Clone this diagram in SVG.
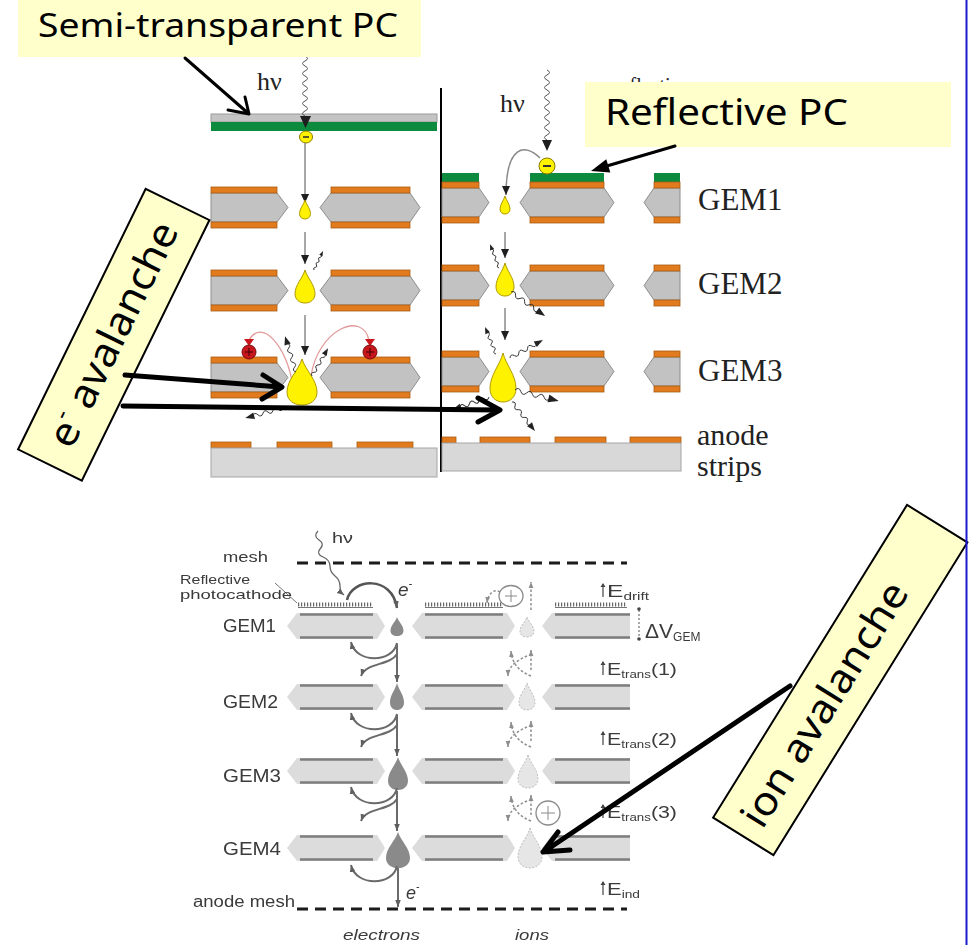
<svg xmlns="http://www.w3.org/2000/svg" width="969" height="945" viewBox="0 0 969 945">
<defs>
<style>
.lbl{font-family:"Noto Sans","DejaVu Sans",sans-serif;fill:#000}
.note{fill:#FFFFCC}
.noteb{fill:#FFFFCC;stroke:#000;stroke-width:2}
.ser{font-family:"Liberation Serif","Times New Roman",serif;fill:#222}
.cu{fill:#E27B1E;stroke:#A95C12;stroke-width:0.8}
.kap{fill:#C2C2C2;stroke:#8E8E8E;stroke-width:1}
.pc{fill:#0C8A3E}
.sub{fill:#D8D8D8;stroke:#A5A5A5;stroke-width:1}
.drift{stroke:#8A8A8A;stroke-width:1.5;fill:none}
.drop{fill:#FFF200;stroke:#B09A00;stroke-width:1}
.big{stroke:#000;stroke-width:5;fill:none;stroke-linecap:round;stroke-linejoin:round}
.ptr{stroke:#000;stroke-width:3;fill:none;stroke-linecap:round;stroke-linejoin:round}
.pink{stroke:#E39A9A;stroke-width:1.3;fill:none}
.gl{fill:#DCDCDC}
.el{stroke:#7E7E7E;stroke-width:2.5}
.sans{font-family:"Liberation Sans",Arial,sans-serif;fill:#3A3A3A}
.edrop{fill:#8A8A8A}
.idrop{fill:url(#dots);stroke:#BDBDBD;stroke-width:1;stroke-dasharray:2 1.5}
.etr{stroke:#6A6A6A;stroke-width:2;fill:none}
.itr{stroke:#8E8E8E;stroke-width:1.5;fill:none;stroke-dasharray:2.5 2}
.dash{stroke:#1A1A1A;stroke-width:3;stroke-dasharray:11 7;fill:none}
</style>
<pattern id="dots" width="3" height="3" patternUnits="userSpaceOnUse">
<rect width="3" height="3" fill="#E6E6E6"/><circle cx="1.5" cy="1.5" r="0.7" fill="#A6A6A6"/>
</pattern>
<filter id="soft"><feGaussianBlur stdDeviation="0.45"/></filter>
<clipPath id="above-note"><rect x="580" y="60" width="120" height="22"/></clipPath>
<marker id="mk" viewBox="0 0 10 10" refX="10" refY="5" markerWidth="9" markerHeight="9" markerUnits="userSpaceOnUse" orient="auto"><path d="M0,0.5 L10,5 L0,9.5 Z" fill="#1E1E1E"/></marker>
<marker id="mb" viewBox="0 0 10 10" refX="10" refY="5" markerWidth="7" markerHeight="7" markerUnits="userSpaceOnUse" orient="auto"><path d="M0,1 L10,5 L0,9 Z" fill="#5E5E5E"/></marker>
<marker id="mi" viewBox="0 0 10 10" refX="10" refY="5" markerWidth="6" markerHeight="6" markerUnits="userSpaceOnUse" orient="auto"><path d="M0,1 L10,5 L0,9 Z" fill="#8E8E8E"/></marker>
<!-- avalanche droplet, tip at (0,0), unit height/width -->
<path id="drop" vector-effect="non-scaling-stroke" d="M0,0 C0.12,0.25 0.5,0.45 0.5,0.72 C0.5,0.9 0.27,1 0,1 C-0.27,1 -0.5,0.9 -0.5,0.72 C-0.5,0.45 -0.12,0.25 0,0 Z"/>
<!-- short photon squiggle with arrowhead, 30 units long along +x -->
<g id="sq"><path d="M0 0 q2 -3 4 0 q2 3 4 0 q2 -3 4 0 q2 3 4 0 q2 -3 4 0 q2 3 4 0" fill="none" stroke="#333" stroke-width="1" vector-effect="non-scaling-stroke"/><polygon points="30,0 23,-2.6 23,2.6" fill="#222"/></g>
<!-- positive ion with drift arrowhead -->
<g id="ion"><polygon points="-5,-13 5,-13 0,-6" fill="#C8161D"/><circle r="7" fill="#C8161D" stroke="#7A0A0A" stroke-width="1"/><path d="M-4 0 H4 M0 -4 V4" stroke="#3A0000" stroke-width="1"/></g>
<!-- GEM foil cross-section, left stack -->
<g id="gemL">
<polygon class="kap" points="211,6 277,6 288,20.5 277,35 211,35"/>
<polygon class="kap" points="331,6 410,6 420,20.5 410,35 331,35 320,20.5"/>
<rect class="cu" x="211" y="0" width="66" height="6"/><rect class="cu" x="331" y="0" width="79" height="6"/>
<rect class="cu" x="211" y="35" width="66" height="6"/><rect class="cu" x="331" y="35" width="79" height="6"/>
</g>
<!-- GEM foil cross-section, right stack -->
<g id="gemR">
<polygon class="kap" points="442,6 479,6 489,20.5 479,35 442,35"/>
<polygon class="kap" points="530,6 604,6 614,20.5 604,35 530,35 520,20.5"/>
<polygon class="kap" points="654,6 680,6 680,35 654,35 644,20.5"/>
<rect class="cu" x="442" y="0" width="37" height="6"/><rect class="cu" x="530" y="0" width="74" height="6"/><rect class="cu" x="654" y="0" width="26" height="6"/>
<rect class="cu" x="442" y="35" width="37" height="6"/><rect class="cu" x="530" y="35" width="74" height="6"/><rect class="cu" x="654" y="35" width="26" height="6"/>
</g>
<!-- GEM foil, lower schematic -->
<g id="gemB">
<polygon class="gl" points="287,0 297,-13 377,-13 385,0 377,13 297,13"/>
<polygon class="gl" points="412,0 422,-13 507,-13 515,0 507,13 422,13"/>
<polygon class="gl" points="542,0 552,-13 630,-13 630,13 552,13"/>
<path class="el" d="M300 -11.5 H373 M300 11.5 H373 M425 -11.5 H503 M425 11.5 H503 M555 -11.5 H630 M555 11.5 H630"/>
</g>
<!-- electron transfer below a lower foil -->
<g id="etrans">
<path class="etr" d="M397 17 C393 37 356 38 351 16" marker-end="url(#mb)"/>
<path class="etr" d="M397 28 C390 40 366 36 361 50" marker-end="url(#mb)"/>
</g>
<!-- ion back-flow below a lower foil -->
<g id="itrans">
<path class="itr" d="M531 44 V24" marker-end="url(#mi)"/>
<path class="itr" d="M531 50 C520 46 512 38 511 25" marker-end="url(#mi)"/>
<path class="itr" d="M527 30 C518 34 508 40 508 50" marker-end="url(#mi)"/>
</g>
</defs>

<rect width="969" height="945" fill="#FFFFFF"/>

<!-- ===== semi-transparent photocathode stack ===== -->
<g id="stack-semi">
<rect x="211" y="114" width="226" height="8" fill="#C4C4C4" stroke="#9A9A9A" stroke-width="1"/>
<rect class="pc" x="211" y="122" width="226" height="9"/>
<path d="M305 56 q5 2.5 0 5 q-5 2.5 0 5 q5 2.5 0 5 q-5 2.5 0 5 q5 2.5 0 5 q-5 2.5 0 5 q5 2.5 0 5 q-5 2.5 0 5 q5 2.5 0 5 q-5 2.5 0 5 q5 2.5 0 5 q-5 2.5 0 5" fill="none" stroke="#555" stroke-width="1"/>
<polygon points="300,116 311,116 305.5,128" fill="#1E1E1E"/>
<text class="ser" x="257" y="90" font-size="26">hν</text>
<ellipse cx="306" cy="137" rx="6.5" ry="6" fill="#FFF200" stroke="#8A7A00" stroke-width="1"/>
<path d="M303 137 H309" stroke="#333" stroke-width="1.6"/>
<line class="drift" x1="305" y1="143" x2="305" y2="203" marker-end="url(#mk)"/>
<use href="#gemL" transform="translate(0,187)"/>
<use href="#gemL" transform="translate(0,270)"/>
<use href="#gemL" transform="translate(0,357)"/>
<line class="drift" x1="305" y1="232" x2="305" y2="264" marker-end="url(#mk)"/>
<line class="drift" x1="305" y1="315" x2="305" y2="355" marker-end="url(#mk)"/>
<use href="#drop" class="drop" transform="translate(305,200) scale(11,19)"/>
<use href="#drop" class="drop" transform="translate(305,270) scale(20,33)"/>
<path class="pink" d="M293 386 C286 345 262 318 249 340"/>
<path class="pink" d="M311 376 C318 330 362 310 369 340"/>
<use href="#ion" transform="translate(249,352)"/>
<use href="#ion" transform="translate(370,352)"/>
<use href="#drop" class="drop" transform="translate(302,359) scale(30,46)"/>
<use href="#sq" transform="translate(314,270) rotate(-64.6) scale(0.7)"/>
<use href="#sq" transform="translate(296,372) rotate(-107) scale(1.25)"/>
<use href="#sq" transform="translate(312,376) rotate(-60) scale(1.07)"/>
<use href="#sq" transform="translate(283,408) rotate(165) scale(1.3)"/>
<rect class="cu" x="211" y="442" width="40" height="6"/>
<rect class="cu" x="277" y="442" width="55" height="6"/>
<rect class="cu" x="357" y="442" width="56" height="6"/>
<rect class="sub" x="211" y="448" width="226" height="29"/>
</g>

<line x1="441" y1="88" x2="441" y2="472" stroke="#000" stroke-width="2"/>

<!-- ===== reflective photocathode stack ===== -->
<g id="stack-reflective">
<text class="ser" x="614" y="92" font-size="20" clip-path="url(#above-note)">reflective</text>
<rect class="pc" x="442" y="173" width="37" height="9"/>
<rect class="pc" x="530" y="173" width="74" height="9"/>
<rect class="pc" x="654" y="173" width="26" height="9"/>
<use href="#gemR" transform="translate(0,182)"/>
<use href="#gemR" transform="translate(0,265)"/>
<use href="#gemR" transform="translate(0,351)"/>
<path d="M547 70 q5 2.5 0 5 q-5 2.5 0 5 q5 2.5 0 5 q-5 2.5 0 5 q5 2.5 0 5 q-5 2.5 0 5 q5 2.5 0 5 q-5 2.5 0 5 q5 2.5 0 5 q-5 2.5 0 5 q5 2.5 0 5 q-5 2.5 0 5 q5 2.5 0 5 q-5 2.5 0 5" fill="none" stroke="#555" stroke-width="1"/>
<polygon points="542,140 552,140 547,151" fill="#1E1E1E"/>
<text class="ser" x="500" y="112" font-size="26">hν</text>
<path class="drift" d="M540 158 C525 143 506 145 506 195" marker-end="url(#mk)"/>
<circle cx="547" cy="166" r="8" fill="#FFF200" stroke="#8A7A00" stroke-width="1"/>
<path d="M543 166 H551" stroke="#333" stroke-width="2"/>
<use href="#drop" class="drop" transform="translate(505,196) scale(10,18)"/>
<line class="drift" x1="505" y1="232" x2="505" y2="258" marker-end="url(#mk)"/>
<use href="#drop" class="drop" transform="translate(505,263) scale(18,33)"/>
<line class="drift" x1="505" y1="308" x2="505" y2="340" marker-end="url(#mk)"/>
<use href="#drop" class="drop" transform="translate(503,353) scale(26,49)"/>
<use href="#sq" transform="translate(499,268) rotate(-110.6) scale(0.85)"/>
<use href="#sq" transform="translate(511,292) rotate(35.2) scale(1.39)"/>
<use href="#sq" transform="translate(496,354) rotate(-112) scale(0.97)"/>
<use href="#sq" transform="translate(510,358) rotate(-28.6) scale(1.25)"/>
<use href="#sq" transform="translate(515,390) rotate(14) scale(1.5)"/>
<use href="#sq" transform="translate(512,402) rotate(51.6) scale(1.23)"/>
<use href="#sq" transform="translate(489,397) rotate(160.6) scale(1.3)"/>
<rect class="cu" x="442" y="437" width="14" height="6"/>
<rect class="cu" x="480" y="437" width="50" height="6"/>
<rect class="cu" x="555" y="437" width="51" height="6"/>
<rect class="cu" x="630" y="437" width="51" height="6"/>
<rect class="sub" x="442" y="443" width="239" height="28"/>
<g class="ser" font-size="31">
<text x="698" y="210">GEM1</text>
<text x="698" y="294">GEM2</text>
<text x="698" y="381">GEM3</text>
<text x="697" y="445" font-size="30">anode</text>
<text x="697" y="476" font-size="30">strips</text>
</g>
</g>

<!-- ===== quadruple GEM schematic ===== -->
<g id="quad-gem" filter="url(#soft)">
<path class="dash" d="M297 563 H627"/>
<path class="dash" d="M297 909 H627"/>
<path d="M275 583 L297 603" stroke="#777" stroke-width="1" fill="none"/>
<path d="M298 607.5 H373 M425 607.5 H503 M555 607.5 H627" stroke="#777" stroke-width="1.2"/>
<path d="M298 604.5 H373 M425 604.5 H503 M555 604.5 H627" stroke="#666" stroke-width="4" stroke-dasharray="1.2 1.8"/>
<use href="#gemB" transform="translate(0,626)"/>
<use href="#gemB" transform="translate(0,697)"/>
<use href="#gemB" transform="translate(0,771)"/>
<use href="#gemB" transform="translate(0,848)"/>
<path d="M318 531 q-5 5 1 9 q6 4 1 9 q-4 5 3 8 q7 3 7 9 q0 6 5 10 q5 4 5 10 q0 6 4 9" fill="none" stroke="#666" stroke-width="1.3" marker-end="url(#mb)"/>
<path d="M347 600 C352 578 392 575 397 608" stroke="#555" stroke-width="2.5" fill="none" marker-end="url(#mb)"/>
<use href="#drop" class="edrop" transform="translate(397,617) scale(13,19)"/>
<use href="#drop" class="edrop" transform="translate(397,683) scale(14,27)"/>
<use href="#drop" class="edrop" transform="translate(398,757) scale(20,33)"/>
<use href="#drop" class="edrop" transform="translate(398,832) scale(24,36)"/>
<use href="#etrans" transform="translate(0,626)"/>
<use href="#etrans" transform="translate(0,697)"/>
<use href="#etrans" transform="translate(0,771)"/>
<path class="etr" d="M397 866 C393 886 356 887 351 865" marker-end="url(#mb)"/>
<line class="etr" x1="397" y1="644" x2="397" y2="682" marker-end="url(#mb)"/>
<line class="etr" x1="397" y1="715" x2="397" y2="756" marker-end="url(#mb)"/>
<line class="etr" x1="397" y1="791" x2="397" y2="831" marker-end="url(#mb)"/>
<line class="etr" x1="398" y1="868" x2="398" y2="907" marker-end="url(#mb)"/>
<use href="#drop" class="idrop" transform="translate(527,617) scale(14,20)"/>
<use href="#drop" class="idrop" transform="translate(527,683) scale(16,27)"/>
<use href="#drop" class="idrop" transform="translate(528,755) scale(20,33)"/>
<use href="#drop" class="idrop" transform="translate(530,828) scale(24,40)"/>
<use href="#itrans" transform="translate(0,626)"/>
<use href="#itrans" transform="translate(0,697)"/>
<use href="#itrans" transform="translate(0,771)"/>
<path class="itr" d="M531 610 V582" marker-end="url(#mi)"/>
<path class="itr" d="M500 592 C494 588 488 594 487 603" marker-end="url(#mi)"/>
<ellipse cx="511" cy="596" rx="12" ry="10.5" fill="#FFFFFF" stroke="#8A8A8A" stroke-width="1.3"/>
<path d="M505 596 H517 M511 590 V602" stroke="#8A8A8A" stroke-width="1"/>
<circle cx="548" cy="813" r="12" fill="#FFFFFF" stroke="#8A8A8A" stroke-width="1.3"/>
<path d="M541 813 H555 M548 806 V820" stroke="#8A8A8A" stroke-width="1"/>
<g class="sans">
<text x="332" y="543" font-size="14" textLength="21" lengthAdjust="spacingAndGlyphs">hν</text>
<text x="223" y="562" font-size="15" textLength="45" lengthAdjust="spacingAndGlyphs">mesh</text>
<text x="180" y="584" font-size="13" textLength="70" lengthAdjust="spacingAndGlyphs">Reflective</text>
<text x="180" y="599" font-size="13" textLength="112" lengthAdjust="spacingAndGlyphs">photocathode</text>
<text x="223" y="632" font-size="18" textLength="53" lengthAdjust="spacingAndGlyphs">GEM1</text>
<text x="223" y="708" font-size="18" textLength="55" lengthAdjust="spacingAndGlyphs">GEM2</text>
<text x="223" y="782" font-size="18" textLength="58" lengthAdjust="spacingAndGlyphs">GEM3</text>
<text x="223" y="855" font-size="18" textLength="58" lengthAdjust="spacingAndGlyphs">GEM4</text>
<text x="193" y="907" font-size="16" textLength="102" lengthAdjust="spacingAndGlyphs">anode mesh</text>
<text x="343" y="940" font-size="15" font-style="italic" textLength="77" lengthAdjust="spacingAndGlyphs">electrons</text>
<text x="515" y="940" font-size="15" font-style="italic" textLength="34" lengthAdjust="spacingAndGlyphs">ions</text>
<text x="398" y="596" font-size="19" font-style="italic">e<tspan font-size="11" dy="-9">-</tspan></text>
<text x="406" y="899" font-size="18" font-style="italic">e<tspan font-size="10" dy="-9">-</tspan></text>
<path d="M603 597 V584 M603 675 V662 M603 745 V732 M603 818 V805 M603 895 V882" stroke="#444" stroke-width="1.2" fill="none"/>
<path d="M600.5 587 L603 583 L605.5 587 Z M600.5 665 L603 661 L605.5 665 Z M600.5 735 L603 731 L605.5 735 Z M600.5 808 L603 804 L605.5 808 Z M600.5 885 L603 881 L605.5 885 Z" fill="#444"/>
<text x="607" y="597" font-size="16" textLength="42" lengthAdjust="spacingAndGlyphs">E<tspan font-size="10" dy="3">drift</tspan></text>
<text x="607" y="675" font-size="16" textLength="70" lengthAdjust="spacingAndGlyphs">E<tspan font-size="10" dy="3">trans</tspan><tspan dy="-3">(1)</tspan></text>
<text x="607" y="745" font-size="16" textLength="70" lengthAdjust="spacingAndGlyphs">E<tspan font-size="10" dy="3">trans</tspan><tspan dy="-3">(2)</tspan></text>
<text x="607" y="818" font-size="16" textLength="70" lengthAdjust="spacingAndGlyphs">E<tspan font-size="10" dy="3">trans</tspan><tspan dy="-3">(3)</tspan></text>
<text x="607" y="895" font-size="16" textLength="33" lengthAdjust="spacingAndGlyphs">E<tspan font-size="10" dy="3">ind</tspan></text>
<text x="645" y="638" font-size="21">ΔV<tspan font-size="12" dy="3">GEM</tspan></text>
</g>
<path d="M639 610 V637" stroke="#555" stroke-width="1" stroke-dasharray="2 2"/>
<circle cx="639" cy="609" r="1.8" fill="#444"/>
<circle cx="639" cy="639" r="1.8" fill="#444"/>
</g>

<!-- ===== callout labels ===== -->
<g id="label-semi">
<rect class="note" x="18" y="0" width="403" height="57"/>
<text class="lbl" x="38" y="37" font-size="32" textLength="360" lengthAdjust="spacingAndGlyphs">Semi-transparent PC</text>
</g>
<g id="label-reflective">
<rect class="note" x="585" y="82" width="366" height="65"/>
<text class="lbl" x="605" y="125" font-size="36" textLength="243" lengthAdjust="spacingAndGlyphs">Reflective PC</text>
</g>
<g id="label-e-avalanche" transform="translate(113.75,334.75) rotate(-63.9)">
<rect class="noteb" x="-145" y="-35.5" width="290" height="71"/>
<text class="lbl" x="0" y="13" font-size="40" text-anchor="middle" textLength="245" lengthAdjust="spacingAndGlyphs">e<tspan font-size="24" dy="-17">-</tspan><tspan dy="17"> avalanche</tspan></text>
</g>
<g id="label-ion-avalanche" transform="translate(840.25,680) rotate(-58.2)">
<rect class="noteb" x="-184" y="-35.5" width="368" height="71"/>
<text class="lbl" x="-29" y="13" font-size="40" text-anchor="middle" textLength="280" lengthAdjust="spacingAndGlyphs">ion avalanche</text>
</g>

<!-- ===== pointer arrows ===== -->
<g id="connectors">
<path class="ptr" d="M185 58 L249 114 M228 110 L249 114 L245 97"/>
<path class="ptr" d="M675 146 L600 168"/>
<polygon points="591,171 606.3,159.2 610.3,172.6" fill="#000"/>
<path class="big" d="M125 375 L281 387 M263 375 L282 387 L262 399"/>
<path class="big" d="M123 406 L498 410 M478 398 L500 410 L478 422"/>
<path class="big" d="M790 686 L545 851 M558 832 L543 852 L570 850"/>
</g>

<line x1="966.5" y1="0" x2="966.5" y2="945" stroke="#1A1AD0" stroke-width="2"/>
</svg>
